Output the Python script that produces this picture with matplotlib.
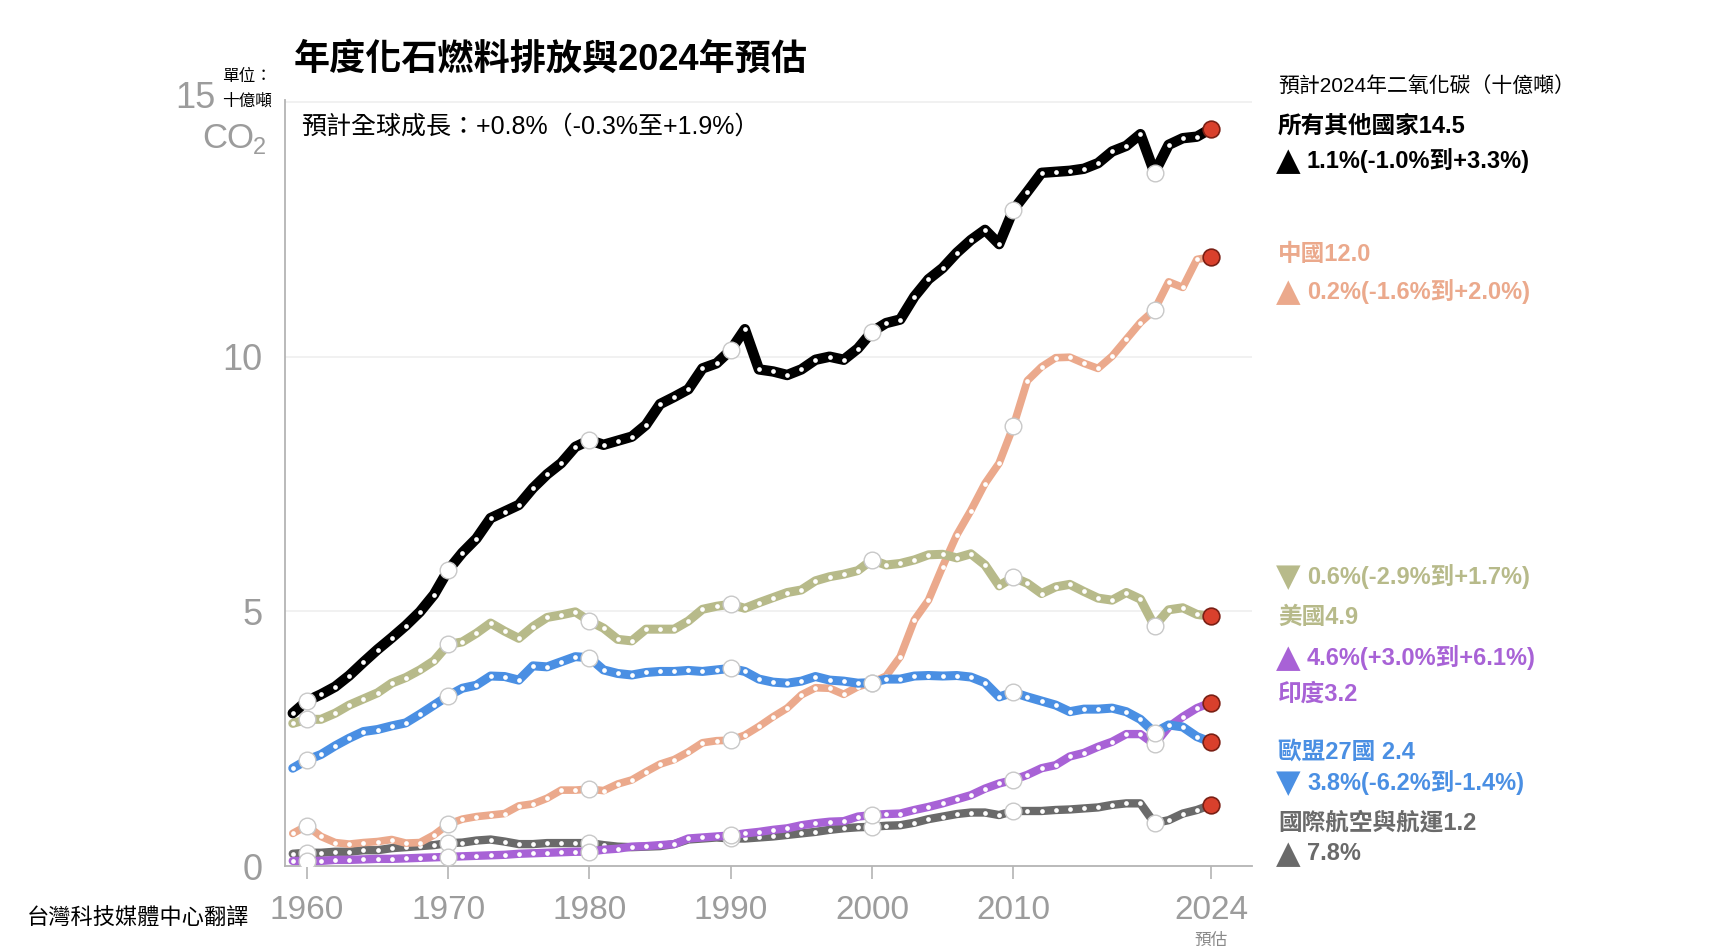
import numpy as np
import matplotlib
matplotlib.use('Agg')
import matplotlib.pyplot as plt

plt.rcParams['font.family'] = ['Liberation Sans', 'Noto Sans CJK TC', 'DejaVu Sans']

years = list(range(1959, 2025))

# GtCO2
others = [3.0, 3.24, 3.37, 3.52, 3.74, 4.0, 4.25, 4.48, 4.72, 4.99, 5.33,
          5.81, 6.15, 6.43, 6.83, 6.96, 7.09, 7.42, 7.69, 7.91, 8.23,
          8.36, 8.27, 8.35, 8.43, 8.66, 9.07, 9.21, 9.36, 9.77, 9.87,
          10.13, 10.54, 9.75, 9.71, 9.64, 9.75, 9.94, 10.0, 9.94, 10.16,
          10.49, 10.66, 10.73, 11.18, 11.52, 11.74, 12.04, 12.29, 12.49, 12.21,
          12.88, 13.24, 13.61, 13.63, 13.65, 13.69, 13.8, 14.03, 14.14, 14.37,
          13.61, 14.16, 14.29, 14.32, 14.48]
china = [0.64, 0.79, 0.58, 0.46, 0.43, 0.46, 0.48, 0.52, 0.45, 0.46, 0.61,
         0.82, 0.92, 0.97, 1.0, 1.03, 1.18, 1.22, 1.33, 1.49, 1.49,
         1.51, 1.48, 1.61, 1.69, 1.85, 2.0, 2.09, 2.24, 2.42, 2.46,
         2.47, 2.57, 2.74, 2.93, 3.1, 3.36, 3.5, 3.49, 3.37, 3.52,
         3.6, 3.73, 4.11, 4.83, 5.22, 5.88, 6.5, 6.98, 7.51, 7.91,
         8.63, 9.53, 9.8, 9.98, 9.99, 9.87, 9.77, 10.01, 10.34, 10.67,
         10.92, 11.47, 11.36, 11.91, 11.96]
usa = [2.8, 2.88, 2.88, 3.0, 3.16, 3.28, 3.4, 3.59, 3.7, 3.85, 4.03,
       4.35, 4.4, 4.57, 4.77, 4.61, 4.47, 4.7, 4.88, 4.93, 4.99,
       4.81, 4.67, 4.45, 4.42, 4.65, 4.65, 4.65, 4.81, 5.04, 5.1,
       5.14, 5.06, 5.17, 5.27, 5.37, 5.42, 5.6, 5.68, 5.73, 5.8,
       6.01, 5.91, 5.94, 6.01, 6.11, 6.12, 6.05, 6.13, 5.91, 5.5,
       5.67, 5.55, 5.35, 5.48, 5.53, 5.39, 5.26, 5.22, 5.37, 5.24,
       4.71, 5.03, 5.07, 4.94, 4.9]
eu27 = [1.92, 2.08, 2.19, 2.36, 2.51, 2.64, 2.68, 2.75, 2.81, 2.98, 3.16,
        3.34, 3.49, 3.55, 3.73, 3.72, 3.65, 3.93, 3.91, 4.01, 4.11,
        4.09, 3.85, 3.78, 3.75, 3.8, 3.82, 3.82, 3.84, 3.82, 3.85,
        3.88, 3.82, 3.67, 3.61, 3.59, 3.63, 3.72, 3.65, 3.63, 3.59,
        3.6, 3.67, 3.67, 3.73, 3.74, 3.73, 3.74, 3.71, 3.6, 3.32,
        3.41, 3.32, 3.24, 3.16, 3.03, 3.08, 3.08, 3.1, 3.03, 2.88,
        2.62, 2.77, 2.73, 2.54, 2.43]
india = [0.1, 0.1, 0.1, 0.12, 0.12, 0.13, 0.14, 0.14, 0.15, 0.16, 0.17,
         0.18, 0.19, 0.2, 0.21, 0.22, 0.24, 0.25, 0.26, 0.27, 0.28,
         0.28, 0.32, 0.34, 0.38, 0.39, 0.41, 0.43, 0.54, 0.56, 0.58,
         0.6, 0.64, 0.67, 0.71, 0.74, 0.8, 0.84, 0.87, 0.88, 0.97,
         1.0, 1.02, 1.03, 1.1, 1.16, 1.23, 1.31, 1.39, 1.52, 1.62,
         1.69, 1.79, 1.92, 1.98, 2.15, 2.22, 2.34, 2.44, 2.59, 2.59,
         2.39, 2.73, 2.93, 3.1, 3.21]
bunkers = [0.24, 0.26, 0.26, 0.28, 0.28, 0.31, 0.31, 0.35, 0.37, 0.39, 0.41,
           0.45, 0.46, 0.5, 0.52, 0.48, 0.43, 0.43, 0.45, 0.45, 0.45,
           0.45, 0.41, 0.38, 0.37, 0.38, 0.39, 0.43, 0.52, 0.54, 0.56,
           0.54, 0.54, 0.56, 0.58, 0.61, 0.64, 0.67, 0.71, 0.74, 0.76,
           0.77, 0.79, 0.8, 0.85, 0.92, 0.97, 1.02, 1.05, 1.05, 1.0,
           1.08, 1.08, 1.08, 1.1, 1.11, 1.13, 1.15, 1.2, 1.23, 1.23,
           0.84, 0.9, 1.03, 1.1, 1.2]

c_black = '#000000'
c_china = '#eba98c'
c_usa = '#b7ba8a'
c_eu = '#4a8fe3'
c_india = '#a862d6'
c_bunk = '#6a6a6a'

series = [
    (bunkers, c_bunk, 6.0, 2),
    (china, c_china, 5.5, 3),
    (usa, c_usa, 6.5, 4),
    (india, c_india, 6.0, 5),
    (eu27, c_eu, 6.5, 6),
    (others, c_black, 7.5, 7),
]

big_years = [1960, 1970, 1980, 1990, 2000, 2010, 2020]
big_idx = [years.index(y) for y in big_years]

fig = plt.figure(figsize=(17.18, 9.52), dpi=100)
ax = fig.add_axes([285 / 1718, 1 - 866 / 952, (1252 - 285) / 1718, (866 - 100) / 952])

yrs = np.array(years)
for vals, col, lw, z in series:
    v = np.array(vals)
    ax.plot(yrs, v, color=col, lw=lw, solid_capstyle='round', solid_joinstyle='round', zorder=z)
    ax.plot(yrs[:-1], v[:-1], 'o', ms=3.4, mfc='white', mec='none', zorder=z + 0.1)
    ax.plot(yrs[big_idx], v[big_idx], 'o', ms=12, mfc='white', mec='#c8c8c8', mew=1.0, zorder=z + 0.2)
    ax.plot(yrs[-1:], v[-1:], 'o', ms=12, mfc='#d9402c', mec='#7a2015', mew=1.2, zorder=z + 0.3)

ax.set_xlim(1958.45, 2026.9)
ax.set_ylim(0, 15.04)
for yv in [5, 10, 15]:
    ax.axhline(yv, color='#efefef', lw=1.2, zorder=0)

for s in ['top', 'right']:
    ax.spines[s].set_visible(False)
for s in ['left', 'bottom']:
    ax.spines[s].set_color('#b4b4b4')
    ax.spines[s].set_linewidth(1.3)

gray = '#9c9c9c'
ax.set_xticks([1960, 1970, 1980, 1990, 2000, 2010, 2024])
ax.set_xticklabels(['1960', '1970', '1980', '1990', '2000', '2010', '2024'],
                   fontsize=24, color=gray)
ax.tick_params(axis='x', length=9, width=1.2, color='#b4b4b4', pad=12)
ax.set_yticks([0, 5, 10])
ax.set_yticklabels(['0', '5', '10'], fontsize=26, color=gray)
ax.tick_params(axis='y', length=0, pad=16)

# unit label at top of the y axis
fig.text(216 / 1718, 1 - 99 / 952, '15', ha='right', va='center', fontsize=26, color=gray)
fig.text(202 / 1718, 1 - 138 / 952, 'CO', ha='left', va='center', fontsize=25, color=gray)
fig.text(253 / 1718, 1 - 148 / 952, '2', ha='left', va='center', fontsize=17, color=gray)
fig.text(222 / 1718, 1 - 76 / 952, '單位：', ha='left', va='center', fontsize=12)
fig.text(222 / 1718, 1 - 101 / 952, '十億噸', ha='left', va='center', fontsize=12)

fig.text(294 / 1718, 1 - 60 / 952, '年度化石燃料排放與2024年預估', ha='left', va='center',
         fontsize=26, fontweight='bold')
fig.text(301 / 1718, 1 - 127 / 952, '預計全球成長：+0.8%（-0.3%至+1.9%）', ha='left', va='center',
         fontsize=18)

fig.text(1211 / 1718, 1 - 940 / 952, '預估', ha='center', va='center', fontsize=12, color='#8a8a8a')
fig.text(27 / 1718, 1 - 919 / 952, '台灣科技媒體中心翻譯', ha='left', va='center', fontsize=16)

# right-hand annotations
xr = 1278 / 1718
xr2 = 1307 / 1718
fig.text(xr, 1 - 85.5 / 952, '預計2024年二氧化碳（十億噸）', ha='left', va='center', fontsize=15)
labels = [
    ('', '所有其他國家14.5', c_black, 126),
    ('▲', '1.1%(-1.0%到+3.3%)', c_black, 160.5),
    ('', '中國12.0', c_china, 254.7),
    ('▲', '0.2%(-1.6%到+2.0%)', c_china, 291.5),
    ('▼', '0.6%(-2.9%到+1.7%)', c_usa, 577),
    ('', '美國4.9', c_usa, 617.4),
    ('▲', '4.6%(+3.0%到+6.1%)', c_india, 658),
    ('', '印度3.2', c_india, 694),
    ('', '歐盟27國 2.4', c_eu, 751.7),
    ('▼', '3.8%(-6.2%到-1.4%)', c_eu, 782.9),
    ('', '國際航空與航運1.2', c_bunk, 822.9),
    ('▲', '7.8%', c_bunk, 854),
]
for sym, txt, col, yp in labels:
    if sym:
        fig.text(xr - 2 / 1718, 1 - (yp + 1) / 952, sym, ha='left', va='center', fontsize=23,
                 color=col, family=['DejaVu Sans'])
        fig.text(xr2, 1 - yp / 952, txt, ha='left', va='center', fontsize=17,
                 fontweight='bold', color=col)
    else:
        fig.text(xr, 1 - yp / 952, txt, ha='left', va='center', fontsize=17,
                 fontweight='bold', color=col)

fig.savefig('out.png', dpi=100)
